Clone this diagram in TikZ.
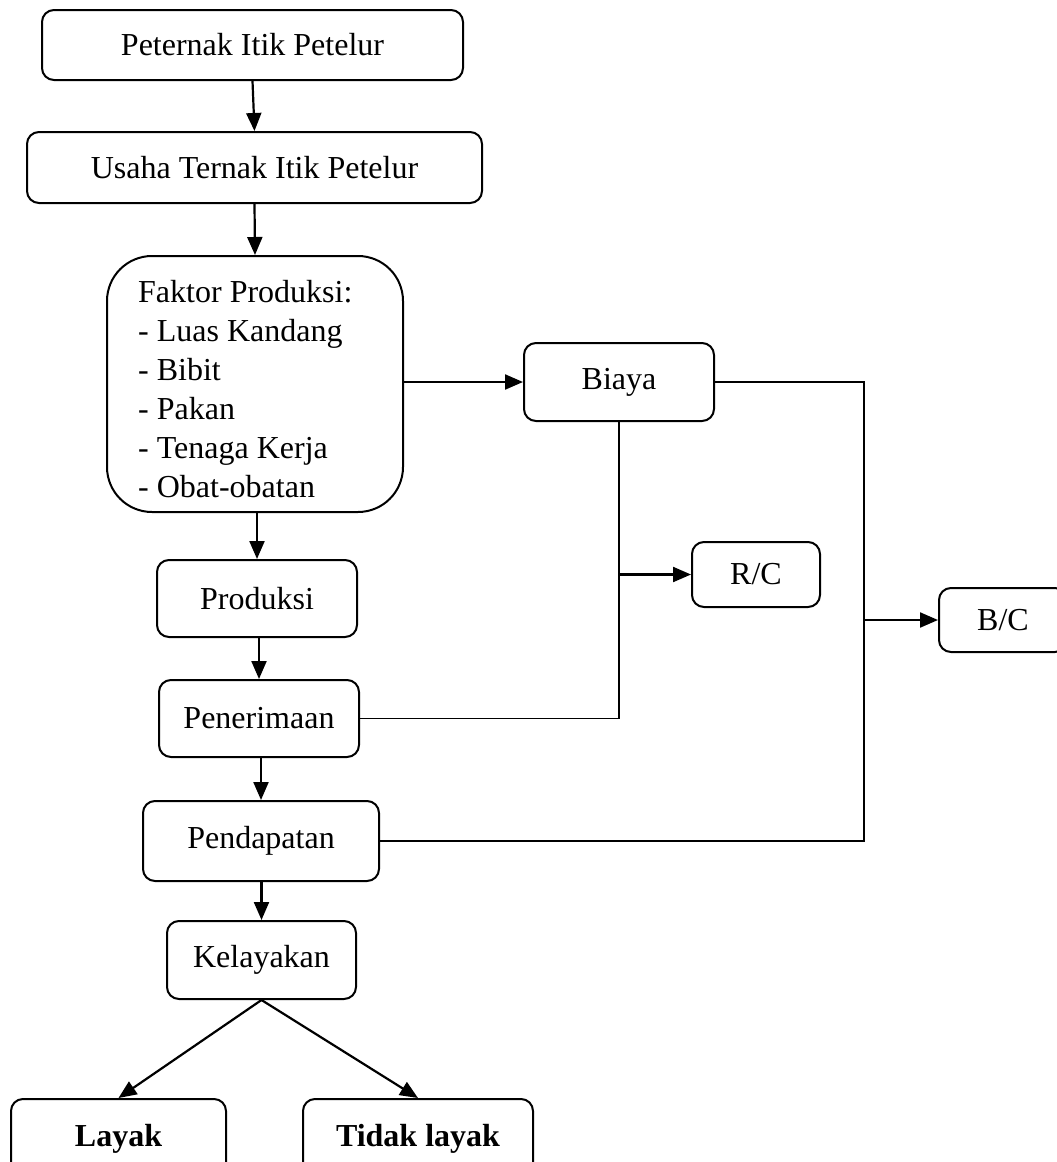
\documentclass[tikz,border=0pt]{standalone}
\usepackage{fontspec}
\setmainfont{Liberation Serif}
\usetikzlibrary{arrows.meta}
\begin{document}
\begin{tikzpicture}[x=1pt,y=-1pt,
  box/.style={draw, line width=2pt, rounded corners=12pt, inner sep=0pt,
    font=\fontsize{32}{38}\selectfont},
  arr/.style={line width=2.2pt, -{Triangle[length=18pt,width=15pt]}},
  link/.style={line width=1.9pt}]
\clip (0,0) rectangle (1057,1162);
\fill[white] (0,0) rectangle (1057,1162);
\node[box, minimum width=421pt, minimum height=70pt] (pet) at (252.5,45) {Peternak Itik Petelur};
\node[box, minimum width=455pt, minimum height=71pt] (usa) at (254.5,167.5) {Usaha Ternak Itik Petelur};
\node[box, rounded corners=45pt, minimum width=296pt, minimum height=256pt] (fak) at (255,384) {};
\node[inner sep=0pt, align=left, anchor=west, font=\fontsize{32}{39}\selectfont] (faktxt) at (138,389)
  {Faktor Produksi:\\- Luas Kandang\\- Bibit\\- Pakan\\- Tenaga Kerja\\- Obat-obatan};
\node[box, minimum width=190pt, minimum height=78pt] (bia) at (619,382) {Biaya};
\node[box, minimum width=128pt, minimum height=65pt] (rc) at (756,574.5) {R/C};
\node[box, minimum width=128pt, minimum height=64pt] (bc) at (1003,620) {B/C};
\node[box, minimum width=200pt, minimum height=77pt] (pro) at (257,598.5) {Produksi};
\node[box, minimum width=200pt, minimum height=77pt] (pen) at (259,718.5) {Penerimaan};
\node[box, minimum width=236pt, minimum height=80pt] (pnd) at (261,841) {Pendapatan};
\node[box, minimum width=189pt, minimum height=78pt] (kel) at (261.5,960) {Kelayakan};
\node[box, minimum width=215pt, minimum height=80pt, font=\fontsize{32}{38}\selectfont\bfseries] (lay) at (118.5,1139) {Layak};
\node[box, minimum width=230pt, minimum height=80pt, font=\fontsize{32}{38}\selectfont\bfseries] (tid) at (418,1139) {Tidak layak};
\coordinate (jb) at (864,0);
\draw[arr] (pet.south) -- (usa.north);
\draw[arr] (usa.south) -- (fak.north);
\draw[arr] (pro.north |- fak.south) -- (pro.north);
\draw[arr] (pen.north |- pro.south) -- (pen.north);
\draw[arr] (pnd.north |- pen.south) -- (pnd.north);
\draw[arr] (kel.north |- pnd.south) -- (kel.north);
\draw[arr] (kel.south) -- (lay.north);
\draw[arr] (kel.south) -- (tid.north);
\draw[arr] (fak.east |- bia.west) -- (bia.west);
\draw[link] (bia.east) -- (bia.east -| jb) -- (pnd.east -| jb) -- (pnd.east);
\draw[arr] (bc.west -| jb) -- (bc.west);
\draw[link] (bia.south) -- (bia.south |- pen.east) -- (pen.east);
\draw[arr] (rc.west -| bia.south) -- (rc.west);
\end{tikzpicture}
\end{document}
